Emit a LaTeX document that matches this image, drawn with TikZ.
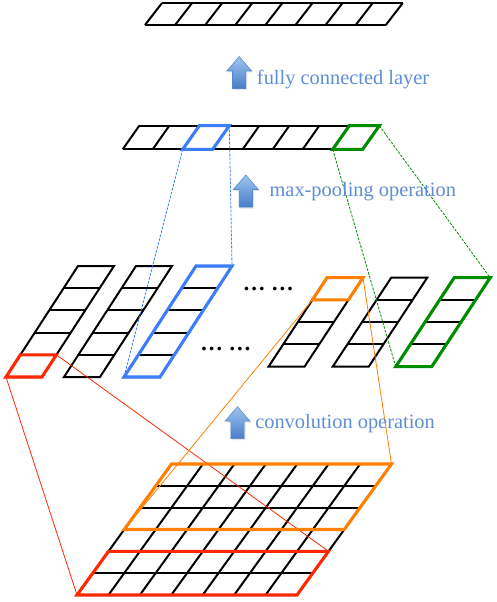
\documentclass[tikz,border=0pt]{standalone}
\usepackage{fontspec}
\setmainfont{Liberation Serif}
\definecolor{txtblue}{RGB}{95,142,213}
\definecolor{hred}{RGB}{255,40,0}
\definecolor{horange}{RGB}{255,128,0}
\definecolor{hblue}{RGB}{60,125,250}
\definecolor{hgreen}{RGB}{0,140,0}
\definecolor{arrtop}{RGB}{160,196,240}
\definecolor{arrbot}{RGB}{70,125,200}
\definecolor{arredge}{RGB}{85,135,205}
\tikzset{
  cell/.style={line width=1.5pt, draw=black},
  hl/.style={line width=2.3pt},
  link/.style={line width=0.6pt},
  dlink/.style={line width=0.6pt, dash pattern=on 2pt off 1pt},
  lbl/.style={font=\fontsize{15.3}{18}\selectfont, text=txtblue, inner sep=0pt},
  dots/.style={font=\fontsize{17}{20}\selectfont\bfseries, text=black, inner sep=0pt},
}
\newcommand{\blockarrow}[2]{%
  \fill[gray!35, opacity=0.6] (#1+1.5,#2+1.5) -- (#1+14,#2+16) -- (#1+8.2,#2+16) -- (#1+8.2,#2+33.5) -- (#1-5.2,#2+33.5) -- (#1-5.2,#2+16) -- (#1-11,#2+16) -- cycle;
  \shade[top color=arrtop, bottom color=arrbot, draw=arredge, line width=0.4pt]
    (#1,#2) -- (#1+12.5,#2+14.5) -- (#1+6.7,#2+14.5) -- (#1+6.7,#2+32) -- (#1-6.7,#2+32) -- (#1-6.7,#2+14.5) -- (#1-12.5,#2+14.5) -- cycle;
}
\begin{document}
\begin{tikzpicture}[x=0.75pt,y=-0.75pt]
\useasboundingbox (0,0) rectangle (496,602);
\fill[white] (0,0) rectangle (496,602);

% ---- top bar (fully connected output)
\foreach \i in {0,...,8} \draw[cell] (145+30.1*\i,25) -- ++(17,-22);
\draw[cell] (145,25) -- ++(240.8,0);
\draw[cell] (162,3) -- ++(240.8,0);

% ---- pooled bar
\foreach \i in {0,...,8} \draw[cell] (122.7+30*\i,149.3) -- ++(16.6,-23.6);
\draw[cell] (122.7,149.3) -- ++(240,0);
\draw[cell] (139.3,125.7) -- ++(240,0);

% ---- feature maps with 5 cells
\foreach \bx in {6,64,124}{
  \draw[cell] (\bx,377) -- ++(36,0) -- ++(72,-111) -- ++(-36,0) -- cycle;
  \foreach \k in {1,...,4} \draw[cell] (\bx+14.4*\k,377-22.2*\k) -- ++(36,0);
}
% ---- feature maps with 4 cells
\foreach \bx in {268.5,332.7,395.7}{
  \draw[cell] (\bx,366.7) -- ++(36,0) -- ++(58.5,-89) -- ++(-36,0) -- cycle;
  \foreach \k in {1,2,3} \draw[cell] (\bx+14.625*\k,366.7-22.25*\k) -- ++(36,0);
}

% ---- input grid
\foreach \k in {0,...,6} \draw[cell] (77+15.75*\k,595-21.833*\k) -- ++(220,0);
\foreach \j in {0,...,7} \draw[cell] (77+31.43*\j,595) -- ++(94.5,-131);

% ---- named corner points
\coordinate (redA) at (6,377);
\coordinate (redB) at (56.4,354.8);
\coordinate (gridRedBL) at (77,595);
\coordinate (gridRedTR) at (328.5,551.33);
\coordinate (orA) at (312.375,299.95);
\coordinate (orB) at (363,277.7);
\coordinate (gridOrBL) at (124.25,529.5);
\coordinate (gridOrTR) at (391.5,464);
\coordinate (blueCellBL) at (182.7,149.3);
\coordinate (blueCellTR) at (229.3,125.7);
\coordinate (mapThreeBL) at (124,377);
\coordinate (mapThreeTR) at (232,266);
\coordinate (greenCellBL) at (332.7,149.3);
\coordinate (greenCellTR) at (379.3,125.7);
\coordinate (mapSixBL) at (395.7,366.7);
\coordinate (mapSixTR) at (490.2,277.7);

% ---- connectors
\draw[link, hred] (redA) -- (gridRedBL);
\draw[link, hred] (redB) -- (gridRedTR);
\draw[link, horange] (orA) -- (gridOrBL);
\draw[link, horange] (orB) -- (gridOrTR);
\draw[dlink, hblue] (blueCellBL) -- (mapThreeBL);
\draw[dlink, hblue] (blueCellTR) -- (mapThreeTR);
\draw[dlink, hgreen] (greenCellBL) -- (mapSixBL);
\draw[dlink, hgreen] (greenCellTR) -- (mapSixTR);

% ---- highlighted outlines
\draw[hl, hred] (6,377) -- ++(36,0) -- ++(14.4,-22.2) -- ++(-36,0) -- cycle;
\draw[hl, horange] (orA) -- ++(36,0) -- ++(14.625,-22.25) -- ++(-36,0) -- cycle;
\draw[hl, hblue] (124,377) -- ++(36,0) -- ++(72,-111) -- ++(-36,0) -- cycle;
\draw[hl, hgreen] (395.7,366.7) -- ++(36,0) -- ++(58.5,-89) -- ++(-36,0) -- cycle;
\draw[hl, hblue] (blueCellBL) -- ++(30,0) -- ++(16.6,-23.6) -- ++(-30,0) -- cycle;
\draw[hl, hgreen] (greenCellBL) -- ++(30,0) -- ++(16.6,-23.6) -- ++(-30,0) -- cycle;
\draw[hl, horange] (gridOrBL) -- ++(220,0) -- (gridOrTR) -- (171.5,464) -- cycle;
\draw[hl, hred] (gridRedBL) -- ++(220,0) -- (gridRedTR) -- (108.5,551.33) -- cycle;

% ---- dots
\node[dots, anchor=base] (dotsA) at (268.3,290.5) {… …};
\node[dots, anchor=base] (dotsB) at (225.8,350.5) {… …};

% ---- arrows and labels
\blockarrow{239.2}{56.5}
\node[lbl, anchor=base west] (lblA) at (256.7,85) {fully connected layer};
\blockarrow{245.8}{175}
\node[lbl, anchor=base west] (lblB) at (269.3,196.7) {max-pooling operation};
\blockarrow{237.5}{406.7}
\node[lbl, anchor=base west] (lblC) at (255,428.3) {convolution operation};
\end{tikzpicture}
\end{document}
